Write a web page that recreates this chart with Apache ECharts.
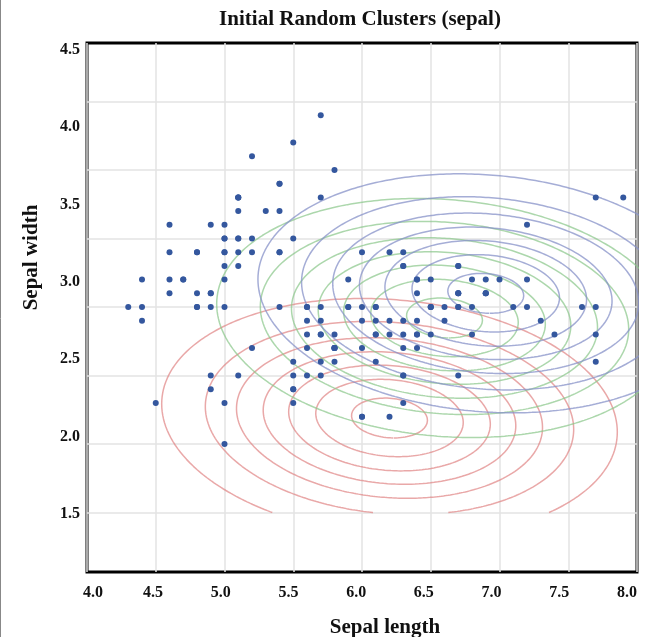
<!DOCTYPE html>
<html><head><meta charset="utf-8">
<script src="https://cdn.jsdelivr.net/npm/echarts@6/dist/echarts.min.js"></script>
<style>html,body{margin:0;padding:0;background:#fff}#c{width:652px;height:637px}</style>
</head><body><div id="c"></div>
<script>
// Iris sepal measurements (length, width)
const sepalLength = [5.1,4.9,4.7,4.6,5.0,5.4,4.6,5.0,4.4,4.9,5.4,4.8,4.8,4.3,5.8,5.7,5.4,5.1,5.7,5.1,5.4,5.1,4.6,5.1,4.8,5.0,5.0,5.2,5.2,4.7,4.8,5.4,5.2,5.5,4.9,5.0,5.5,4.9,4.4,5.1,5.0,4.5,4.4,5.0,5.1,4.8,5.1,4.6,5.3,5.0,
7.0,6.4,6.9,5.5,6.5,5.7,6.3,4.9,6.6,5.2,5.0,5.9,6.0,6.1,5.6,6.7,5.6,5.8,6.2,5.6,5.9,6.1,6.3,6.1,6.4,6.6,6.8,6.7,6.0,5.7,5.5,5.5,5.8,6.0,5.4,6.0,6.7,6.3,5.6,5.5,5.5,6.1,5.8,5.0,5.6,5.7,5.7,6.2,5.1,5.7,
6.3,5.8,7.1,6.3,6.5,7.6,4.9,7.3,6.7,7.2,6.5,6.4,6.8,5.7,5.8,6.4,6.5,7.7,7.7,6.0,6.9,5.6,7.7,6.3,6.7,7.2,6.2,6.1,6.4,7.2,7.4,7.9,6.4,6.3,6.1,7.7,6.3,6.4,6.0,6.9,6.7,6.9,5.8,6.8,6.7,6.7,6.3,6.5,6.2,5.9];
const sepalWidth = [3.5,3.0,3.2,3.1,3.6,3.9,3.4,3.4,2.9,3.1,3.7,3.4,3.0,3.0,4.0,4.4,3.9,3.5,3.8,3.8,3.4,3.7,3.6,3.3,3.4,3.0,3.4,3.5,3.4,3.2,3.1,3.4,4.1,4.2,3.1,3.2,3.5,3.6,3.0,3.4,3.5,2.3,3.2,3.5,3.8,3.0,3.8,3.2,3.7,3.3,
3.2,3.2,3.1,2.3,2.8,2.8,3.3,2.4,2.9,2.7,2.0,3.0,2.2,2.9,2.9,3.1,3.0,2.7,2.2,2.5,3.2,2.8,2.5,2.8,2.9,3.0,2.8,3.0,2.9,2.6,2.4,2.4,2.7,2.7,3.0,3.4,3.1,2.3,3.0,2.5,2.6,3.0,2.6,2.3,2.7,3.0,2.9,2.9,2.5,2.8,
3.3,2.7,3.0,2.9,3.0,3.0,2.5,2.9,2.5,3.6,3.2,2.7,3.0,2.5,2.8,3.2,3.0,3.8,2.6,2.2,3.2,2.8,2.8,2.7,3.3,3.2,2.8,3.0,2.8,3.0,2.8,3.8,2.8,2.8,2.6,3.0,3.4,3.1,3.0,3.1,3.1,3.1,2.7,3.2,3.3,3.0,2.5,3.0,3.4,3.0];

const xTicks = [4.0,4.5,5.0,5.5,6.0,6.5,7.0,7.5,8.0];
const yTicks = [1.5,2.0,2.5,3.0,3.5,4.0,4.5];
// where the reference prints its tick labels (they sit a little off the grid lines)
const xTickLabelAt = [4.057,4.5,5.0,5.5,6.0,6.5,7.0,7.5,8.0];

// Initial random Gaussian clusters (shared covariance), contour levels of pdf
const clusterMeanX = [6.20, 6.60, 6.90];
const clusterMeanY = [2.19, 2.92, 3.10];
const covariance = [[0.6857, -0.0424], [-0.0424, 0.1900]];
const contourLevels = [0.06, 0.12, 0.18, 0.24, 0.30, 0.36, 0.42];
const contourFloorY = 1.5;

const clusterColors = ['rgba(224,135,135,0.72)', 'rgba(140,200,140,0.72)', 'rgba(135,145,200,0.75)'];
const serif = "'Liberation Serif','Times New Roman',serif";

const sx = Math.sqrt(covariance[0][0]);
const sy = Math.sqrt(covariance[1][1]);
const rho = covariance[0][1] / (sx * sy);
const det = covariance[0][0] * covariance[1][1] - covariance[0][1] * covariance[0][1];
const peak = 1 / (2 * Math.PI * Math.sqrt(det));

function ring(mx, my, r) {
  const N = 400, pts = [];
  for (let i = 0; i < N; i++) {
    const t = 2 * Math.PI * i / N;
    pts.push([mx + r * sx * Math.cos(t), my + r * (rho * sy * Math.cos(t) + sy * Math.sqrt(1 - rho * rho) * Math.sin(t))]);
  }
  let iMin = 0;
  pts.forEach((p, i) => { if (p[1] < pts[iMin][1]) iMin = i; });
  const ord = pts.slice(iMin).concat(pts.slice(0, iMin));
  ord.push(ord[0]);
  if (ord[0][1] >= contourFloorY) return ord;
  const out = [];
  for (let i = 1; i < ord.length; i++) {
    const a = ord[i - 1], b = ord[i];
    const ia = a[1] >= contourFloorY, ib = b[1] >= contourFloorY;
    if (ia !== ib) {
      const f = (contourFloorY - a[1]) / (b[1] - a[1]);
      out.push([a[0] + f * (b[0] - a[0]), contourFloorY]);
    }
    if (ib) out.push(b);
  }
  return out;
}

const series = [];
clusterMeanX.forEach((mx, c) => {
  contourLevels.forEach(lv => {
    if (lv >= peak) return;
    const r = Math.sqrt(-2 * Math.log(lv / peak));
    series.push({
      type: 'line', xAxisIndex: 0, yAxisIndex: 0, data: ring(mx, clusterMeanY[c], r),
      showSymbol: false, symbol: 'none', silent: true, clip: true, z: 2,
      lineStyle: { color: clusterColors[c], width: 1.5 }
    });
  });
});
series.push({
  type: 'scatter', xAxisIndex: 0, yAxisIndex: 0, z: 5,
  data: sepalLength.map((x, i) => [x, sepalWidth[i]]),
  symbolSize: 6, itemStyle: { color: '#34579e', opacity: 1 }
});

const labelStyle = { fontFamily: serif, fontWeight: 'bold', fontSize: 16, color: '#111' };
const nameStyle = { fontFamily: serif, fontWeight: 'bold', fontSize: 21, color: '#111' };

const chart = echarts.init(document.getElementById('c'), null, { renderer: 'canvas' });
chart.setOption({
  animation: false,
  backgroundColor: '#fff',
  title: {
    text: 'Initial Random Clusters (sepal)', left: 355, top: 4, textAlign: 'center',
    textStyle: nameStyle
  },
  grid: { left: 87, right: 15, top: 43, bottom: 65, show: true, borderColor: '#000', borderWidth: 3,
    backgroundColor: 'transparent', containLabel: false, outerBoundsMode: 'none' },
  xAxis: [{
    type: 'value', min: 4, max: 8, interval: 0.5,
    axisLine: { show: false }, axisTick: { show: false },
    axisLabel: { show: false },
    splitLine: { show: true, lineStyle: { color: '#e3e3e3', width: 1.5 } },
    name: 'Sepal length', nameLocation: 'middle', nameGap: 45,
    nameTextStyle: Object.assign({ padding: [0, 0, 0, 46] }, nameStyle)
  }, {
    type: 'value', position: 'bottom', min: 4.0127, max: 8.0738,
    axisLine: { show: false }, axisTick: { show: false }, splitLine: { show: false },
    axisLabel: Object.assign({ customValues: xTickLabelAt, margin: 13,
      formatter: v => xTicks.reduce((b, t) => Math.abs(t - v) < Math.abs(b - v) ? t : b).toFixed(1) }, labelStyle)
  }],
  yAxis: [{
    type: 'value', min: 1.066, max: 4.927,
    axisLine: { show: false }, axisTick: { show: false, customValues: yTicks },
    axisLabel: { show: false },
    splitLine: { show: true, lineStyle: { color: '#e3e3e3', width: 1.5 } }
  }, {
    type: 'value', position: 'left', min: 1.125, max: 4.545,
    axisLine: { show: false }, axisTick: { show: false },
    splitLine: { show: false },
    axisLabel: Object.assign({ customValues: yTicks, margin: 7, formatter: v => v.toFixed(1) }, labelStyle),
    name: 'Sepal width', nameLocation: 'middle', nameGap: 45,
    nameTextStyle: Object.assign({ padding: [0, 0, 0, 100] }, nameStyle)
  }],
  graphic: [{ type: 'line', shape: { x1: 0.5, y1: 0, x2: 0.5, y2: 637 }, style: { stroke: '#888', lineWidth: 1 }, silent: true }],
  series: series
});
</script></body></html>
